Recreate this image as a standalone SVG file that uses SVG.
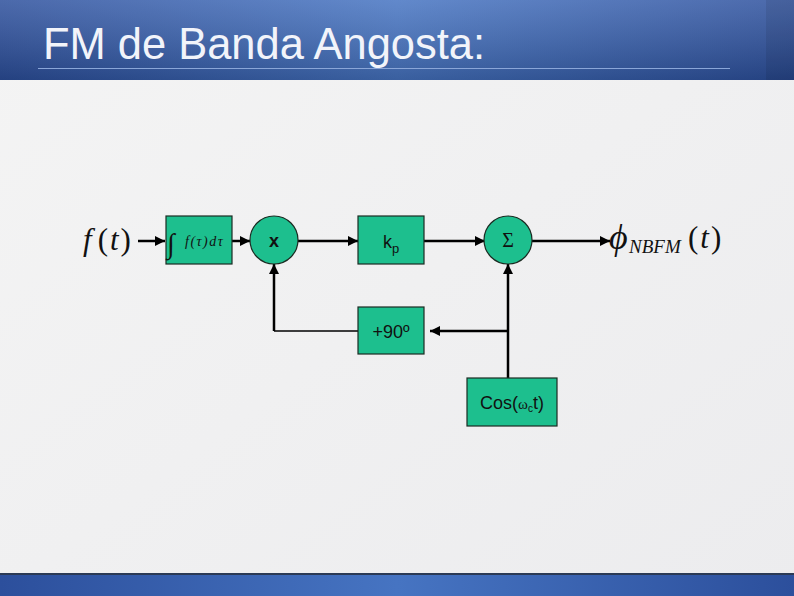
<svg xmlns="http://www.w3.org/2000/svg" width="794" height="596" viewBox="0 0 794 596">
<defs>
<linearGradient id="bg" x1="0" y1="0" x2="1" y2="1">
<stop offset="0" stop-color="#f4f4f4"/><stop offset="1" stop-color="#ececee"/>
</linearGradient>
<linearGradient id="hdr" x1="0" y1="0" x2="1" y2="0">
<stop offset="0" stop-color="#2c4f9c"/><stop offset="0.5" stop-color="#4674c2"/><stop offset="1" stop-color="#2c4f9c"/>
</linearGradient>
<linearGradient id="hdrv" x1="0" y1="0" x2="0" y2="1">
<stop offset="0" stop-color="#ffffff" stop-opacity="0.15"/><stop offset="1" stop-color="#000000" stop-opacity="0.18"/>
</linearGradient>
<marker id="ah" viewBox="0 0 10 10" refX="10" refY="5" markerWidth="4" markerHeight="4" orient="auto" markerUnits="strokeWidth">
<path d="M0,0 L10,5 L0,10 z" fill="#000"/>
</marker>
<style>
.blk{fill:#1dbf8e;stroke:#1b2b22;stroke-width:1.2}
.lbl{font-family:"Liberation Sans",Arial,sans-serif;font-size:18px;fill:#111;text-anchor:middle}
.math{font-family:"Liberation Serif","Times New Roman",serif;fill:#111}
.w{stroke:#000;stroke-width:2.5;fill:none}
.thin{stroke:#000;stroke-width:1.3;fill:none}
</style>
</defs>
<rect width="794" height="596" fill="url(#bg)"/>
<rect width="794" height="80" fill="url(#hdr)"/>
<rect width="794" height="80" fill="url(#hdrv)"/>
<rect x="766" y="0" width="28" height="80" fill="#000" opacity="0.08"/>
<line x1="38" y1="68.5" x2="730" y2="68.5" stroke="#8aa6d8" stroke-width="1"/>
<text x="43" y="59" font-family="Liberation Sans,Arial,sans-serif" font-size="45" fill="#f2f4fa" textLength="442" lengthAdjust="spacingAndGlyphs">FM de Banda Angosta:</text>
<rect x="0" y="573" width="794" height="2" fill="#2b3a55"/>
<rect x="0" y="575" width="794" height="21" fill="url(#hdr)"/>

<g id="connectors">
<line class="w" x1="138" y1="241" x2="165" y2="241" marker-end="url(#ah)"/>
<line class="w" x1="232" y1="241" x2="250" y2="241" marker-end="url(#ah)"/>
<line class="w" x1="298" y1="241" x2="358" y2="241" marker-end="url(#ah)"/>
<line class="w" x1="424" y1="241" x2="485" y2="241" marker-end="url(#ah)"/>
<line class="w" x1="532" y1="241" x2="610" y2="241" marker-end="url(#ah)"/>
<line class="thin" x1="274" y1="331" x2="358" y2="331"/>
<line class="w" x1="274" y1="331" x2="274" y2="264" marker-end="url(#ah)"/>
<line class="w" x1="508" y1="378" x2="508" y2="264" marker-end="url(#ah)"/>
<line class="w" x1="508" y1="331" x2="430" y2="331" marker-end="url(#ah)"/>
</g>

<g id="input">
<text class="math" x="83" y="250" font-size="31"><tspan font-style="italic">f</tspan><tspan dx="6">(</tspan><tspan font-style="italic" dx="2">t</tspan><tspan dx="2">)</tspan></text>
</g>
<g id="integrator">
<rect class="blk" x="166" y="216" width="66" height="48"/>
<text class="math" x="167" y="253" font-size="28" font-style="italic">∫</text>
<text class="math" x="185" y="246" font-size="14" font-style="italic" letter-spacing="1.5">f(τ)dτ</text>
</g>
<g id="multiplier">
<circle class="blk" cx="274" cy="240" r="24"/>
<text class="lbl" x="274" y="247" font-weight="bold" font-size="21">x</text>
</g>
<g id="gain">
<rect class="blk" x="358" y="216" width="66" height="48"/>
<text class="lbl" x="391" y="248" font-size="19">k<tspan font-size="13" dy="5">p</tspan></text>
</g>
<g id="sum">
<circle class="blk" cx="508" cy="240" r="24"/>
<text class="math" x="508" y="247" font-size="20" text-anchor="middle">Σ</text>
</g>
<g id="output">
<text class="math" x="609" y="249" font-size="36" font-style="italic">ϕ</text>
<text class="math" x="629" y="253" font-size="19" font-style="italic">NBFM</text>
<text class="math" x="688" y="248" font-size="31">(<tspan font-style="italic" dx="2">t</tspan><tspan dx="2">)</tspan></text>
</g>
<g id="phase">
<rect class="blk" x="358" y="307" width="66" height="47"/>
<text class="lbl" x="391" y="338">+90º</text>
</g>
<g id="oscillator">
<rect class="blk" x="467" y="378" width="90" height="48"/>
<text class="lbl" x="512" y="409">Cos(<tspan font-family="Liberation Serif,serif" font-size="15">ω</tspan><tspan font-size="10" dy="3">c</tspan><tspan dy="-3">t)</tspan></text>
</g>
</svg>
